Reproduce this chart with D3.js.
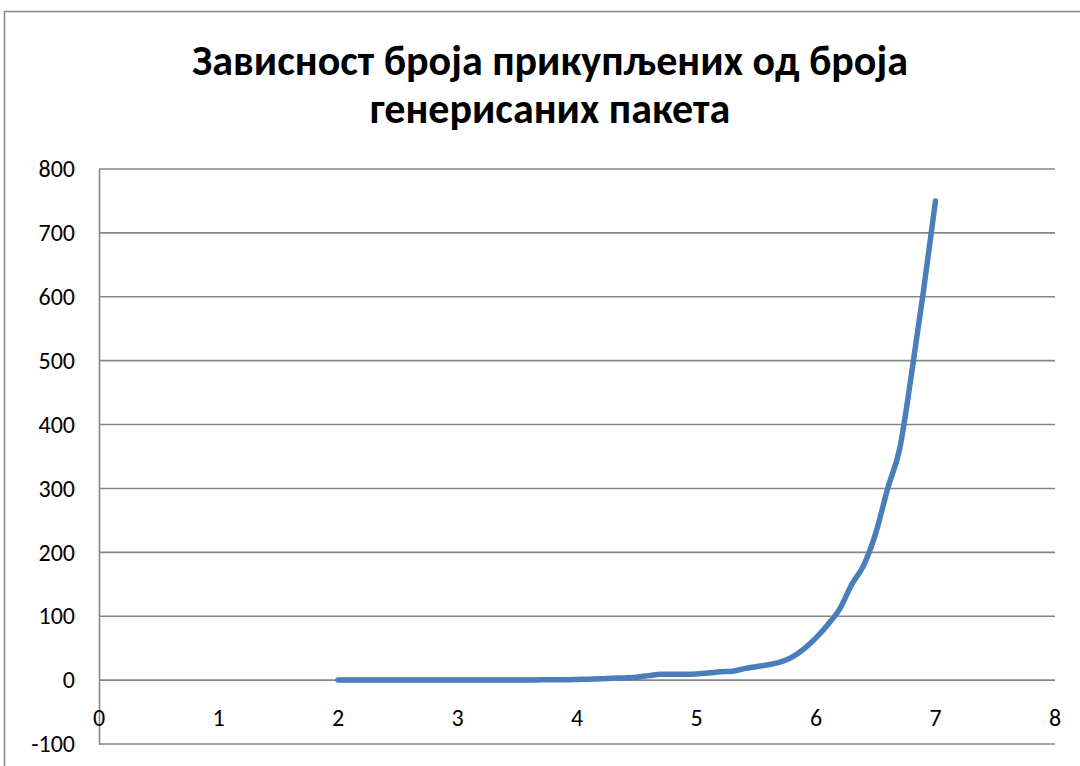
<!DOCTYPE html>
<html>
<head>
<meta charset="utf-8">
<script src="https://cdn.jsdelivr.net/npm/d3@7"></script>
<style>
  html, body { margin: 0; padding: 0; background: #fff; }
  svg { display: block; }
</style>
</head>
<body>
<svg id="chart" width="1080" height="766"></svg>
<script>
// Generated packets (x) vs collected packets (y)
const titleLines = ["Зависност броја прикупљених од броја", "генерисаних пакета"];
const xValues = [2.0, 2.1, 2.2, 2.3, 2.4, 2.5, 2.6, 2.7, 2.8, 2.9,
                 3.0, 3.1, 3.2, 3.3, 3.4, 3.5, 3.6, 3.7, 3.8, 3.9,
                 4.0, 4.1, 4.2, 4.3, 4.4, 4.5, 4.6, 4.7, 4.8, 4.9,
                 5.0, 5.1, 5.2, 5.3, 5.4, 5.5, 5.6, 5.7, 5.8, 5.9,
                 6.0, 6.1, 6.2, 6.3, 6.4, 6.5, 6.6, 6.7, 6.8, 6.9, 7.0];
const yValues = [0, 0, 0, 0, 0, 0, 0, 0, 0, 0,
                 0, 0, 0, 0, 0, 0, 0.3, 0.4, 0.5, 0.6,
                 1, 1.5, 2, 3, 3.5, 4.5, 7, 9, 9, 9,
                 9.5, 11, 13, 14, 18, 21, 24, 28, 36, 49,
                 66, 87, 112, 150, 180, 230, 300, 362, 480, 610, 750];
const xTicks = [0, 1, 2, 3, 4, 5, 6, 7, 8];
const yTicks = [-100, 0, 100, 200, 300, 400, 500, 600, 700, 800];

const svg = d3.select("#chart");
const font = "Calibri, Carlito, Lato, 'Open Sans', sans-serif";
const gridColor = "#868686";

// Outer chart frame
svg.append("path")
  .attr("d", "M4.5,766 V11.5 H1080")
  .attr("fill", "none")
  .attr("stroke", gridColor)
  .attr("stroke-width", 1.5);

const plot = { left: 99, right: 1055, top: 169, bottom: 744 };
const x = d3.scaleLinear().domain([0, 8]).range([plot.left, plot.right]);
const y = d3.scaleLinear().domain([-100, 800]).range([plot.bottom, plot.top]);

// Horizontal gridlines
svg.append("g")
  .selectAll("line")
  .data(yTicks.filter(d => d !== -100))
  .join("line")
  .attr("x1", plot.left).attr("x2", plot.right)
  .attr("y1", d => y(d)).attr("y2", d => y(d))
  .attr("stroke", gridColor)
  .attr("stroke-width", 1.6);

// Value axis
const yAxis = svg.append("g")
  .attr("transform", `translate(${plot.left},0)`)
  .call(d3.axisLeft(y).tickValues(yTicks).tickSize(0).tickPadding(24).tickFormat(d => String(d)));
yAxis.select(".domain").attr("stroke", gridColor).attr("stroke-width", 1.6);
yAxis.selectAll("text")
  .attr("font-family", font)
  .attr("font-size", 24)
  .attr("fill", "#000");

// Category axis line along the bottom
svg.append("line")
  .attr("x1", plot.left).attr("x2", plot.right)
  .attr("y1", plot.bottom).attr("y2", plot.bottom)
  .attr("stroke", gridColor)
  .attr("stroke-width", 1.6);

// X tick labels sit just below the zero line
svg.append("g")
  .selectAll("text")
  .data(xTicks)
  .join("text")
  .attr("x", d => x(d))
  .attr("y", y(0) + 46)
  .attr("text-anchor", "middle")
  .attr("font-family", font)
  .attr("font-size", 24)
  .attr("fill", "#000")
  .text(d => d);

// Data line (smoothed)
const points = xValues.map((v, i) => [v, yValues[i]]);
svg.append("path")
  .datum(points)
  .attr("fill", "none")
  .attr("stroke", "#4a7ebb")
  .attr("stroke-width", 5.5)
  .attr("stroke-linecap", "round")
  .attr("stroke-linejoin", "round")
  .attr("d", d3.line().x(d => x(d[0])).y(d => y(d[1])).curve(d3.curveMonotoneX));

// Title
const title = svg.append("text")
  .attr("text-anchor", "middle")
  .attr("font-family", font)
  .attr("font-weight", "bold")
  .attr("font-size", 42)
  .attr("fill", "#000");
title.selectAll("tspan")
  .data(titleLines)
  .join("tspan")
  .attr("x", 550)
  .attr("y", (d, i) => 75 + i * 48)
  .text(d => d);
</script>
</body>
</html>
